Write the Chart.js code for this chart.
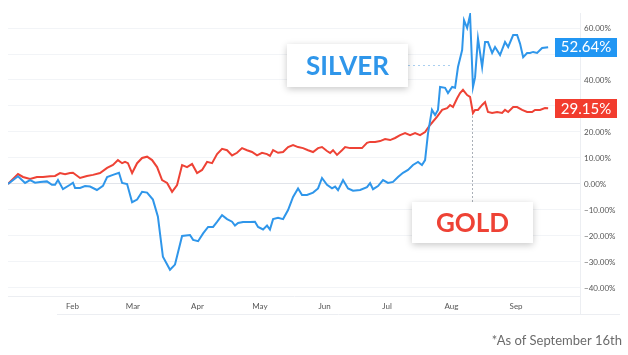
<!DOCTYPE html>
<html>
<head>
<meta charset="utf-8">
<script src="https://cdn.jsdelivr.net/npm/chart.js@4"></script>
<style>
html,body{margin:0;padding:0;background:#fff;}
#c{display:block;}
</style>
</head>
<body>
<canvas id="c" width="628" height="355"></canvas>
<script>
// Days since Jan 1 2020 (x) and % change (y)
const silverDays = [0,4.8,8.2,10.6,13,15.4,18.7,21.1,22.6,24,26.4,29.8,31.2,32.2,34.6,37,39.4,42.7,45.6,47.6,50.4,53.3,54.8,57.2,59.6,62,64.4,66.8,69.6,72,74.4,77.8,80.2,83.6,87.4,88.9,91.3,93.7,96.1,98.5,100.4,102.8,105.2,107.6,109,110.5,112.9,116.2,118.6,120.1,122.5,124.4,125.8,127.3,129.7,132.1,134.5,136.9,139.3,141.2,143.6,146.5,148.9,150.8,153.2,155.6,157.1,158.5,160.9,163.3,165.7,169.1,172.4,173.9,175.3,177.7,180.1,182.5,184.9,187.3,189.7,192.1,194.5,196.9,198.8,200.3,201.7,203.6,205.1,206.5,207.5,209.9,211.3,213.3,214.7,216.1,218.1,219,220.5,221.9,223.3,224.3,225.7,227.7,229.1,230.5,232.5,233.9,236.3,238.7,240.2,242.6,244.5,245.9,247.4,249.3,250.7,252.2,254.1,256.5,259.4];
const silverValues = [0,3,0.4,1.5,0.5,0.8,1,-0.3,-0.3,1.5,-2,-0.3,0.5,-1.5,-1.5,-0.8,-1,-2.3,-0.7,2.7,3.5,4.3,0.4,0,-7,-6,-3,-3.3,-6,-12.6,-28,-33,-31,-20,-19.6,-21.5,-22,-19,-16.5,-16.5,-14.6,-12,-13.5,-14.5,-16,-15,-14.6,-14.6,-14.5,-16.5,-17.5,-16,-17.5,-13.5,-13,-13.5,-10,-5,-1.7,-4.2,-4.2,-3.3,-1.7,2.3,-0.3,-1.7,-1,-2.4,1.5,-1.7,-2.6,-2.3,-1.2,0.3,-2,-0.8,1.5,0.4,0.8,2.7,4.3,5.4,7.3,8.5,7.3,9.2,19.5,28.5,26.5,28.5,37.3,37,35,37.3,37,45,51.5,63,60,65,37.3,41,56,45,54.6,54.6,50.4,52.7,49.6,54.6,52.7,57.3,57.3,54,48.8,50.4,50.4,50.8,50.4,52.3,52.64];
const goldDays = [0,4.8,7.2,10.6,13.9,16.8,20.2,22.6,25,27.4,29.8,31.2,34.6,37.9,40.8,44.2,47.6,50.4,52.8,54.8,56.2,57.6,59.6,62,64.4,66.8,69.2,71.6,74,76.4,78.8,81.2,83.6,86,88.4,90.8,93.2,95.6,98,100.4,102.8,105.2,107.6,110,112.4,114.8,117.2,119.6,122,124.4,125.8,127.3,129.7,132.1,134.5,136.9,139.3,141.7,144.1,146.5,148.9,150.8,153.2,154.7,156.1,158,160.4,161.9,164.3,167.6,170,172.4,173.9,176.3,178.7,181.1,183.5,185.9,188.3,190.7,193.1,195.5,197.9,200.3,202.7,206,208.5,210.9,212.3,213.7,215.7,217.1,218.5,220.5,221.9,223.3,224.3,225.7,227.7,229.1,230.5,232.5,234.9,237.3,238.7,240.2,242.6,244.5,246.9,249.3,251.7,253.1,255.5,257.9,259.4];
const goldValues = [0,3.8,2.7,1.9,2.7,2.7,3,3.1,4.2,3.8,4.2,4.3,2.3,3.1,3.5,4.2,6.2,7.3,9.2,8,8.5,8,4.2,8,10,10.5,9.2,6.5,1.5,0.4,-3,-0.4,7.3,6.5,7.7,4.2,5.4,8.5,8,11.5,13.5,13,11,12,13.8,13,12.3,11,12,11.5,10.8,13,12,12.3,14.2,15,14.2,13.8,13,12.3,13.8,14.2,12.7,11.9,13,11.2,13,14.2,13.8,13.8,13.8,15.8,16.2,16.2,16.5,17.3,16.9,17.7,18.8,19.6,18.8,19.6,18.8,20,22.7,25.8,28.5,29.2,30.4,29.6,33,35,36.2,34.2,33.5,27.3,28.5,28.5,30.4,31.5,27.7,27.3,27.7,27.3,28.5,27.7,29.6,29.6,28.5,27.7,27.7,28.5,28.5,29.2,29.15];
const monthDays = [31,60,91,121,152,182,213,244];
const monthLabels = ['Feb','Mar','Apr','May','Jun','Jul','Aug','Sep'];
const yTickValues = [-40,-30,-20,-10,0,10,20,30,40,50,60];
const silverLast = '52.64%';
const goldLast = '29.15%';

const BLUE = '#2f96ea';
const RED = '#ee4235';

const silverData = silverDays.map((d,i)=>({x:d,y:silverValues[i]}));
const goldData = goldDays.map((d,i)=>({x:d,y:goldValues[i]}));

function fmt(v){ return (v<0?'\u2212':'') + Math.abs(v).toFixed(2) + '%'; }

function box(ctx,x,y,w,h){
  ctx.save();
  ctx.shadowColor='rgba(0,0,0,0.22)';
  ctx.shadowBlur=7;
  ctx.shadowOffsetY=2;
  ctx.fillStyle='#fff';
  ctx.fillRect(x,y,w,h);
  ctx.restore();
}

const deco = {
  id:'deco',
  afterDraw(chart){
    const ctx = chart.ctx;
    const ca = chart.chartArea;
    const ys = chart.scales.y;
    ctx.save();
    // separator & bottom line
    ctx.strokeStyle='#eceef2';
    ctx.lineWidth=1;
    ctx.beginPath();
    ctx.moveTo(ca.right+0.5,ca.top);
    ctx.lineTo(ca.right+0.5,314);
    ctx.moveTo(57,314.5);
    ctx.lineTo(620,314.5);
    ctx.stroke();

    // silver dotted connector
    ctx.setLineDash([2,3]);
    ctx.strokeStyle='#a9cff0';
    ctx.beginPath();
    ctx.moveTo(408,65.5);
    ctx.lineTo(453,65.5);
    ctx.stroke();
    // gold dotted connector
    ctx.strokeStyle='#aab0b8';
    ctx.setLineDash([2,2]);
    ctx.beginPath();
    ctx.moveTo(472.5,116);
    ctx.lineTo(472.5,202);
    ctx.stroke();
    ctx.setLineDash([]);

    // callouts
    box(ctx,287,44,121,43);
    box(ctx,412,202,121,41);
    ctx.font='bold 26px Lato';
    ctx.textAlign='center';
    ctx.textBaseline='middle';
    ctx.fillStyle=BLUE;
    ctx.fillText('SILVER',347.5,67);
    ctx.fillStyle=RED;
    ctx.fillText('GOLD',472.5,224);

    // badges
    const ySil = ys.getPixelForValue(silverValues[silverValues.length-1]);
    const yGold = ys.getPixelForValue(goldValues[goldValues.length-1]);
    ctx.fillStyle='#2196f3';
    ctx.fillRect(555,Math.round(ySil-9.5),62,19);
    ctx.fillStyle='#f23c2e';
    ctx.fillRect(555,Math.round(yGold-9.5),62,19);
    ctx.fillStyle='#fff';
    ctx.font='15px Lato';
    ctx.textAlign='center';
    ctx.fillText(silverLast,586,ySil+0.5);
    ctx.fillText(goldLast,586,yGold+0.5);

    // footnote
    ctx.fillStyle='#6b6b6b';
    ctx.font='13px Lato';
    ctx.textAlign='right';
    ctx.textBaseline='alphabetic';
    ctx.fillText('*As of September 16th',622,345);
    ctx.restore();
  }
};

new Chart(document.getElementById('c'),{
  type:'line',
  data:{
    datasets:[
      {label:'Silver',data:silverData,borderColor:BLUE,borderWidth:2,pointRadius:0,tension:0,fill:false},
      {label:'Gold',data:goldData,borderColor:RED,borderWidth:2,pointRadius:0,tension:0,fill:false}
    ]
  },
  options:{
    responsive:false,
    animation:false,
    events:[],
    layout:{padding:{left:8,top:13,right:0,bottom:0}},
    plugins:{legend:{display:false},tooltip:{enabled:false}},
    scales:{
      x:{
        type:'linear',
        min:0,
        max:274.7,
        afterBuildTicks(s){ s.ticks = monthDays.map(v=>({value:v})); },
        afterFit(s){ s.height = 59; },
        ticks:{
          autoSkip:false,
          maxRotation:0,
          padding:6,
          color:'#555',
          font:{family:'Lato',size:8},
          callback(v){ const i = monthDays.indexOf(v); return i>=0 ? monthLabels[i] : ''; }
        },
        grid:{display:false,drawTicks:false},
        border:{display:true,color:'#eceef2'}
      },
      y:{
        position:'right',
        min:-43.08,
        max:65.77,
        afterBuildTicks(s){ s.ticks = yTickValues.map(v=>({value:v})); },
        afterFit(s){ s.width = 48; },
        ticks:{
          padding:4,
          color:'#555',
          font:{family:'Lato',size:8},
          callback(v){ return (v===30||v===50) ? '' : fmt(v); }
        },
        grid:{
          drawTicks:false,
          color(c){ return c.tick && c.tick.value===0 ? '#e1e4ea' : '#f2f4f7'; }
        },
        border:{display:false}
      }
    }
  },
  plugins:[deco]
});
</script>
</body>
</html>
